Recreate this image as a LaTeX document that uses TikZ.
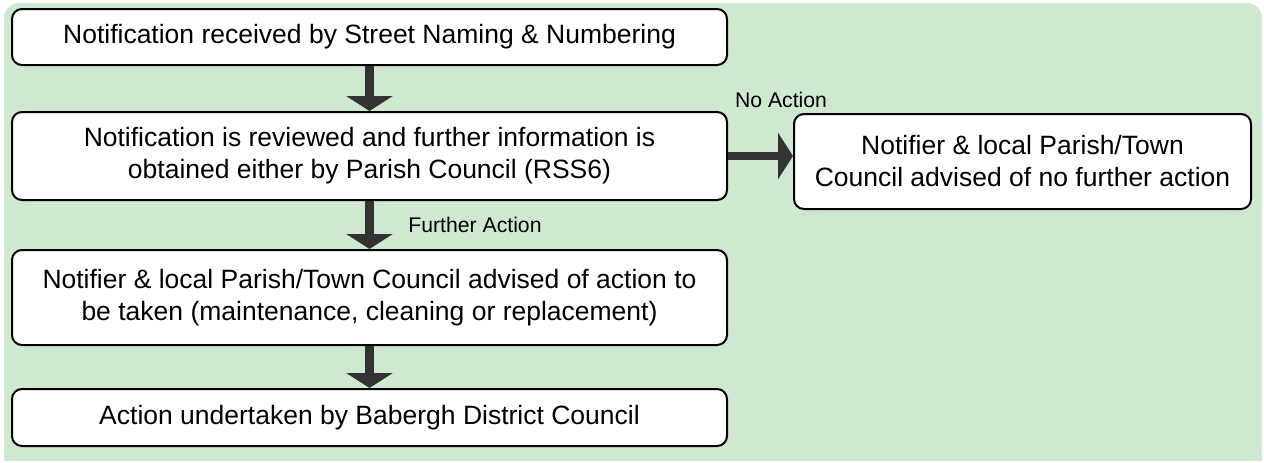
\documentclass[tikz,border=0pt]{standalone}
\usepackage{fontspec}
\setmainfont{Liberation Sans}
\usetikzlibrary{arrows.meta}
\definecolor{bggreen}{RGB}{207,233,209}
\definecolor{arrowgrey}{RGB}{51,51,51}

\begin{document}
\begin{tikzpicture}[x=1pt,y=-1pt]
	\tikzset{
		box/.style={draw=black,line width=2pt,fill=white,rounded corners=10pt,
			align=center,inner sep=0pt,minimum width=715pt,
			font=\fontsize{26.5}{32}\selectfont},
		flow/.style={draw=arrowgrey,line width=8.5pt,
			-{Triangle[length=15pt,width=46pt]}},
		lbl/.style={inner sep=0pt,font=\fontsize{21.2}{25}\selectfont}}
	\useasboundingbox (0,0) rectangle (1264,463);
	\fill[bggreen,rounded corners=15pt] (4,3) rectangle (1262,461);
	\fill[bggreen] (4,200) rectangle (1262,461);
	\node[box,minimum height=56pt](recv) at (369.5,37){Notification received by Street Naming \& Numbering};
	\node[box,minimum height=88pt](review) at (369.5,156){Notification is reviewed and further information is\\obtained either by Parish Council (RSS6)};
	\node[box,minimum width=457pt,minimum height=95pt](noact) at (1022.5,161.5){Notifier \& local Parish/Town\\Council advised of no further action};
	\node[box,minimum height=95pt](advise) at (369.5,297.5){Notifier \& local Parish/Town Council advised of action to\\be taken (maintenance, cleaning or replacement)};
	\node[box,minimum height=57pt](done) at (369.5,417.5){Action undertaken by Babergh District Council};
	\node[lbl](nolbl) at (781,100){No Action};
	\node[lbl](furtherlbl) at (475,225){Further Action};
	\draw[flow](recv.south)--(review.north);
	\draw[flow](review.south)--(advise.north);
	\draw[flow](advise.south)--(done.north);
	\draw[flow](review.east)--(noact.west |- review.east);
\end{tikzpicture}
\end{document}
